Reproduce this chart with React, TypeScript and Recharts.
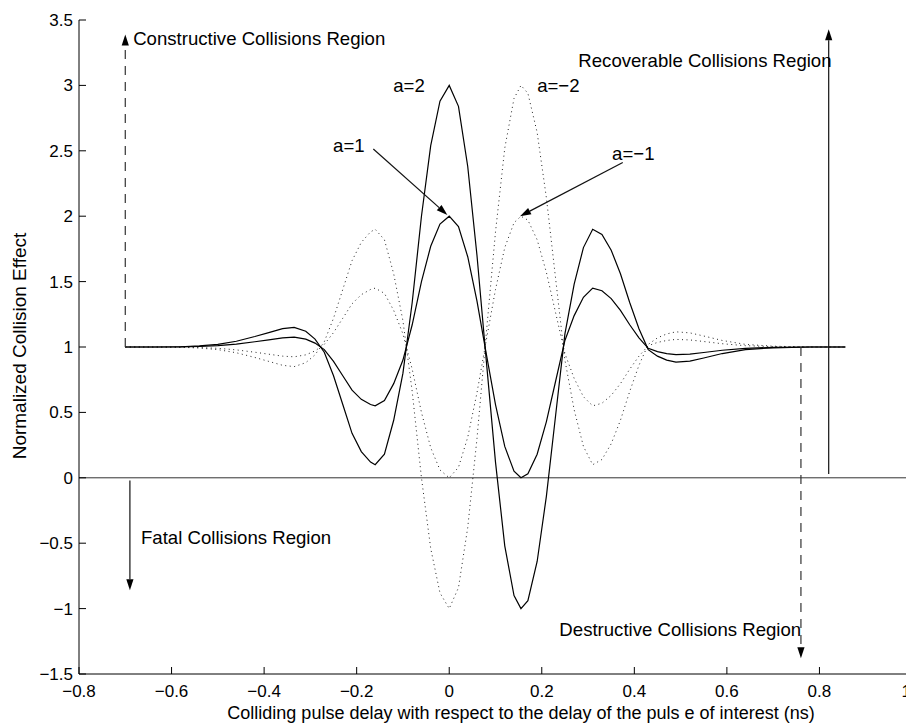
import React from 'react';
import { ComposedChart, Line, XAxis, YAxis, ReferenceLine, ReferenceDot } from 'recharts';

// Colliding pulse delay (ns)
const delay = [
  -0.7, -0.64, -0.58, -0.54, -0.5, -0.46, -0.42, -0.39, -0.36, -0.335, -0.31, -0.29, -0.27, -0.25, -0.23,
  -0.21, -0.19, -0.17, -0.16, -0.14, -0.12, -0.1, -0.08, -0.06, -0.04, -0.02, 0, 0.02, 0.04, 0.06, 0.08,
  0.1, 0.12, 0.14, 0.155, 0.17, 0.19, 0.21, 0.23, 0.25, 0.27, 0.29, 0.31, 0.33, 0.35, 0.37, 0.39, 0.41,
  0.43, 0.45, 0.47, 0.49, 0.52, 0.55, 0.59, 0.64, 0.7, 0.78, 0.856,
];

// a = 2 (solid)
const aPlus2 = [
  1, 1, 1.002, 1.008, 1.02, 1.044, 1.08, 1.11, 1.14, 1.15, 1.12, 1.06, 0.96, 0.78, 0.56,
  0.34, 0.2, 0.12, 0.1, 0.18, 0.44, 0.8, 1.34, 2.0, 2.54, 2.88, 3.0, 2.84, 2.38, 1.7, 0.9,
  0.12, -0.52, -0.9, -1.0, -0.94, -0.64, -0.14, 0.48, 1.1, 1.48, 1.76, 1.9, 1.86, 1.74, 1.56, 1.34, 1.14,
  0.98, 0.93, 0.9, 0.884, 0.892, 0.916, 0.95, 0.98, 0.994, 1, 1,
];

// a = 1 (solid)
const aPlus1 = [
  1, 1, 1.001, 1.004, 1.01, 1.022, 1.04, 1.055, 1.07, 1.075, 1.06, 1.03, 0.98, 0.89, 0.78,
  0.67, 0.6, 0.56, 0.55, 0.59, 0.72, 0.9, 1.17, 1.5, 1.77, 1.94, 2.0, 1.92, 1.69, 1.35, 0.95,
  0.56, 0.24, 0.05, 0.0, 0.03, 0.18, 0.43, 0.74, 1.05, 1.24, 1.38, 1.45, 1.43, 1.37, 1.28, 1.17, 1.07,
  0.99, 0.965, 0.95, 0.942, 0.946, 0.958, 0.975, 0.99, 0.997, 1, 1,
];

// a = -1 (dotted)
const aMinus1 = [
  1, 1, 0.999, 0.996, 0.99, 0.978, 0.96, 0.945, 0.93, 0.925, 0.94, 0.97, 1.02, 1.11, 1.22,
  1.33, 1.4, 1.44, 1.45, 1.41, 1.28, 1.1, 0.83, 0.5, 0.23, 0.06, 0.0, 0.08, 0.31, 0.65, 1.05,
  1.44, 1.76, 1.95, 2.0, 1.97, 1.82, 1.57, 1.26, 0.95, 0.76, 0.62, 0.55, 0.57, 0.63, 0.72, 0.83, 0.93,
  1.01, 1.035, 1.05, 1.058, 1.054, 1.042, 1.025, 1.01, 1.003, 1, 1,
];

// a = -2 (dotted)
const aMinus2 = [
  1, 1, 0.998, 0.992, 0.98, 0.956, 0.92, 0.89, 0.86, 0.85, 0.88, 0.94, 1.04, 1.22, 1.44,
  1.66, 1.8, 1.88, 1.9, 1.82, 1.56, 1.2, 0.66, 0.0, -0.54, -0.88, -1.0, -0.84, -0.38, 0.3, 1.1,
  1.88, 2.52, 2.9, 3.0, 2.94, 2.64, 2.14, 1.52, 0.9, 0.52, 0.24, 0.1, 0.14, 0.26, 0.44, 0.66, 0.86,
  1.02, 1.07, 1.1, 1.116, 1.108, 1.084, 1.05, 1.02, 1.006, 1, 1,
];

const xTicks = [-0.8, -0.6, -0.4, -0.2, 0, 0.2, 0.4, 0.6, 0.8, 1];
const yTicks = [-1.5, -1, -0.5, 0, 0.5, 1, 1.5, 2, 2.5, 3, 3.5];

const xTitle = 'Colliding pulse delay with respect to the delay of the puls e of interest (ns)';
const yTitle = 'Normalized Collision Effect';

// annotation texts: [x, y, label]
const notes: [number, number, string][] = [
  [-0.683, 3.362, 'Constructive Collisions Region'],
  [0.279, 3.187, 'Recoverable Collisions Region'],
  [0.238, -1.156, 'Destructive Collisions Region'],
  [-0.666, -0.453, 'Fatal Collisions Region'],
  [-0.121, 3.003, 'a=2'],
  [0.19, 3.003, 'a=\u22122'],
  [-0.251, 2.544, 'a=1'],
  [0.352, 2.483, 'a=\u22121'],
];

// arrows: [x1, y1, x2 (tip), y2 (tip), dashed]
const arrows: [number, number, number, number, boolean][] = [
  [-0.7, 1, -0.7, 3.39, true],
  [0.82, 0.03, 0.82, 3.43, false],
  [0.76, 1, 0.76, -1.38, true],
  [-0.69, -0.02, -0.69, -0.86, false],
  [-0.164, 2.514, -0.004, 2.01, false],
  [0.375, 2.41, 0.153, 2.0, false],
];

const data = delay.map((t, i) => ({
  t,
  a2: aPlus2[i],
  a1: aPlus1[i],
  am1: aMinus1[i],
  am2: aMinus2[i],
}));

const FONT = '"Liberation Sans", Arial, Helvetica, sans-serif';

const fmt = (v: number) => {
  const s = String(Math.abs(v));
  return v < 0 ? '\u2212' + s : s;
};

const XTick = (p: any) => {
  const v = p.payload.value;
  const last = v === xTicks[xTicks.length - 1];
  return (
    <text
      x={p.x}
      y={p.y}
      dx={last ? -1 : 0}
      dy="0.71em"
      textAnchor={last ? 'end' : 'middle'}
      fontFamily={FONT}
      fontSize={17}
      fill="#000"
    >
      {fmt(v)}
    </text>
  );
};

const makeArrow = (dashed: boolean) => (p: any) => {
  const { x1, y1, x2, y2 } = p;
  const dx = x2 - x1;
  const dy = y2 - y1;
  const L = Math.hypot(dx, dy) || 1;
  const ux = dx / L;
  const uy = dy / L;
  const head = 11;
  const hw = 3.6;
  const bx = x2 - ux * head;
  const by = y2 - uy * head;
  const px = -uy;
  const py = ux;
  const pts = `${x2},${y2} ${bx + px * hw},${by + py * hw} ${bx - px * hw},${by - py * hw}`;
  const col = dashed ? '#333' : '#111';
  return (
    <g>
      <line x1={x1} y1={y1} x2={bx} y2={by} stroke={col} strokeWidth={1.2} strokeDasharray={dashed ? '9 7' : undefined} />
      <polygon points={pts} fill="#000" />
    </g>
  );
};

const makeText = (label: string) => (p: any) => (
  <text x={p.cx} y={p.cy} dominantBaseline="central" fontFamily={FONT} fontSize={18.6} fill="#000">
    {label}
  </text>
);

export default function App() {
  return (
    <div style={{ position: 'relative', width: 906, height: 719, background: '#fff', fontFamily: FONT }}>
      <ComposedChart
        width={906}
        height={719}
        data={data}
        margin={{ top: 12, right: 2, bottom: 23, left: 11 }}
      >
        <XAxis
          type="number"
          dataKey="t"
          domain={[-0.8, 1]}
          ticks={xTicks}
          interval={0}
          height={30}
          tickSize={-7}
          tickMargin={18}
          axisLine={{ stroke: '#000', strokeWidth: 1 }}
          tickLine={{ stroke: '#000' }}
          tick={XTick}
          allowDataOverflow
        />
        <YAxis
          type="number"
          domain={[-1.5, 3.5]}
          ticks={yTicks}
          tickFormatter={fmt}
          interval={0}
          width={60}
          tickSize={-7}
          tickMargin={13}
          axisLine={{ stroke: '#000', strokeWidth: 1 }}
          tickLine={{ stroke: '#000' }}
          tick={{ fill: '#000', fontSize: 17, fontFamily: FONT }}
          allowDataOverflow
        />
        <ReferenceLine y={0} stroke="#333" strokeWidth={1} />
        <Line type="linear" dataKey="am1" stroke="#222" strokeWidth={1} strokeDasharray="1 3.5" dot={false} isAnimationActive={false} />
        <Line type="linear" dataKey="am2" stroke="#222" strokeWidth={1} strokeDasharray="1 3.5" dot={false} isAnimationActive={false} />
        <Line type="linear" dataKey="a1" stroke="#000" strokeWidth={1.2} dot={false} isAnimationActive={false} />
        <Line type="linear" dataKey="a2" stroke="#000" strokeWidth={1.2} dot={false} isAnimationActive={false} />
        {arrows.map(([x1, y1, x2, y2, dashed], i) => (
          <ReferenceLine
            key={'ar' + i}
            segment={[{ x: x1, y: y1 }, { x: x2, y: y2 }]}
            stroke="#000"
            shape={makeArrow(dashed)}
          />
        ))}
        {notes.map(([x, y, label], i) => (
          <ReferenceDot key={'n' + i} x={x} y={y} r={1} shape={makeText(label)} />
        ))}
      </ComposedChart>
      <div
        style={{
          position: 'absolute',
          left: 0,
          top: 693,
          width: 1026,
          textAlign: 'center',
          fontSize: 18,
          color: '#000',
          whiteSpace: 'nowrap',
          lineHeight: '24px',
        }}
      >
        {xTitle}
      </div>
      <div
        style={{
          position: 'absolute',
          left: 12 - 150,
          top: 338 - 12,
          width: 300,
          textAlign: 'center',
          fontSize: 19,
          color: '#000',
          whiteSpace: 'nowrap',
          lineHeight: '24px',
          transform: 'rotate(-90deg)',
        }}
      >
        {yTitle}
      </div>
    </div>
  );
}
